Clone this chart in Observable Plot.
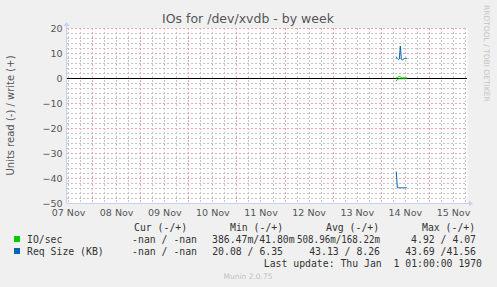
<!DOCTYPE html>
<html><head><meta charset="utf-8">
<script src="https://cdn.jsdelivr.net/npm/d3@7"></script>
<script src="https://cdn.jsdelivr.net/npm/@observablehq/plot@0.6"></script>
<style>
html,body{margin:0;padding:0;background:#F0F0F0;}
#chart svg{display:block;background:#F0F0F0;}
</style></head>
<body><div id="chart"></div>
<script>
// ---- data ----
const title = "IOs for /dev/xvdb - by week";
const yLabel = "Units read (-) / write (+)";
const dayLabels = ["07 Nov","08 Nov","09 Nov","10 Nov","11 Nov","12 Nov","13 Nov","14 Nov","15 Nov"];
const dayNoons = ["2024-11-07T12:00Z","2024-11-08T12:00Z","2024-11-09T12:00Z","2024-11-10T12:00Z","2024-11-11T12:00Z","2024-11-12T12:00Z","2024-11-13T12:00Z","2024-11-14T12:00Z","2024-11-15T12:00Z"];
const yTicks = [20,10,0,-10,-20,-30,-40,-50];
const times = ["2024-11-14T07:30Z","2024-11-14T08:00Z","2024-11-14T08:30Z","2024-11-14T09:00Z","2024-11-14T09:30Z","2024-11-14T10:00Z","2024-11-14T10:30Z","2024-11-14T11:00Z","2024-11-14T11:30Z","2024-11-14T12:00Z","2024-11-14T12:30Z"];
const ioWrite   = [0.2, 0.3, 0.5, 1.0, 0.6, 0.4, 0.3, 0.3, 0.3, 0.3, 0.3];
const ioRead    = [-1.0,-0.3,-0.2,-0.1,-0.1,-0.1,-0.1,-0.1,-0.1,-0.1,-0.1];
const reqWrite  = [8.6, 8.0, 7.6, 7.8, 13.0, 7.8, 7.4, 7.6, 8.0, 8.0, 8.0];
const reqRead   = [-37.4,-43.7,-43.7,-43.7,-43.7,-43.7,-43.7,-43.7,-43.7,-43.7,-43.7];
const legendNames = ["IO/sec","Req Size (KB)"];
const legendColors = ["#00CC00","#0066B3"];
const legendCur = ["-nan / -nan","-nan / -nan"];
const legendMin = ["386.47m/41.80m","20.08 / 6.35"];
const legendAvg = ["508.96m/168.22m","43.13 / 8.26"];
const legendMax = ["4.92 / 4.07","43.69 /41.56"];
const lastUpdate = "Last update: Thu Jan  1 01:00:00 1970";
const footer = "Munin 2.0.75";
const watermark = "RRDTOOL / TOBI OETIKER";
const xDomain = ["2024-11-07T11:30Z","2024-11-15T19:00Z"];

// ---- derived tables ----
const P = d => new Date(d);
const mk = (vals) => times.map((t,i)=>({t:P(t), v:vals[i]}));
const majorX = d3.utcDay.range(P(xDomain[0]), P(xDomain[1]));
const minorX = d3.utcHour.every(6).range(P(xDomain[0]), P(xDomain[1])).filter(d => d.getUTCHours() !== 0);
const majorY = d3.range(-50, 21, 10);
const minorY = d3.range(-50, 21, 2).filter(v => v % 10 !== 0);

const chart = Plot.plot({
  width: 497, height: 287,
  marginLeft: 67, marginRight: 30, marginTop: 28, marginBottom: 84,
  style: {background: "#F0F0F0", fontFamily: "DejaVu Sans", fontSize: "9.5px", color: "#555"},
  x: {type: "utc", domain: xDomain.map(P)},
  y: {domain: [-50, 20]},
  marks: [
    Plot.frame({fill: "white", stroke: null}),
    Plot.ruleX(minorX, {x: d => d, stroke: "#c4c4c4", strokeDasharray: "2,2", strokeWidth: 1, className: "grid"}),
    Plot.ruleY(minorY, {y: d => d, stroke: "#c4c4c4", strokeDasharray: "2,2", strokeWidth: 1, className: "grid"}),
    Plot.ruleX(majorX, {x: d => d, stroke: "#eda4a4", strokeDasharray: "2,2", strokeWidth: 1, className: "grid"}),
    Plot.ruleY(majorY, {y: d => d, stroke: "#eda4a4", strokeDasharray: "2,2", strokeWidth: 1, className: "grid"}),
    Plot.axisY({ticks: yTicks, tickSize: 0, tickPadding: 5, label: null, fill: "#555", fontSize: 9.5}),
    Plot.axisX({ticks: dayNoons.map(P), tickFormat: (d) => dayLabels[dayNoons.findIndex(s => +P(s) === +d)], tickSize: 0, tickPadding: 6, label: null, fill: "#555", fontSize: 9.5}),
    Plot.ruleY([0], {stroke: "black", strokeWidth: 1.2}),
    Plot.line(mk(ioWrite), {x: "t", y: "v", stroke: legendColors[0], strokeWidth: 1}),
    Plot.line(mk(ioRead), {x: "t", y: "v", stroke: legendColors[0], strokeWidth: 1}),
    Plot.line(mk(reqWrite), {x: "t", y: "v", stroke: legendColors[1], strokeWidth: 1}),
    Plot.line(mk(reqRead), {x: "t", y: "v", stroke: legendColors[1], strokeWidth: 1})
  ]
});
document.getElementById("chart").appendChild(chart);

// snap grid lines to whole pixels so the dotted pattern stays crisp
const svg = d3.select(chart);
svg.selectAll("g.grid line").each(function() {
  const l = d3.select(this);
  for (const a of ["x1", "x2", "y1", "y2"]) {
    const v = l.attr(a);
    if (v != null) l.attr(a, Math.round(+v));
  }
});

// ---- decorations (axes arrows, title, legend) ----
const xs = chart.scale("x"), ys = chart.scale("y");
const [x0, x1] = xs.range, [yb, yt] = ys.range;
const axisCol = "#C8D0F0";
const deco = svg.append("g");
deco.append("line").attr("x1", x0).attr("x2", x1 + 3).attr("y1", yb + 0.5).attr("y2", yb + 0.5).attr("stroke", axisCol);
deco.append("path").attr("d", `M${x1+2},${yb-2.5}L${x1+6},${yb+0.5}L${x1+2},${yb+3.5}Z`).attr("fill", axisCol);
deco.append("line").attr("x1", x0 - 0.5).attr("x2", x0 - 0.5).attr("y1", yb).attr("y2", yt - 3).attr("stroke", axisCol);
deco.append("path").attr("d", `M${x0-3.5},${yt-2}L${x0-0.5},${yt-6}L${x0+2.5},${yt-2}Z`).attr("fill", axisCol);

deco.append("text").attr("x", 248).attr("y", 23).attr("text-anchor", "middle")
  .attr("font-family", "DejaVu Sans").attr("font-size", 12.5).attr("fill", "#555").text(title);
deco.append("text").attr("transform", `translate(14,${(yb+yt)/2}) rotate(-90)`).attr("text-anchor", "middle")
  .attr("font-family", "DejaVu Sans").attr("font-size", 10).attr("fill", "#555").text(yLabel);
deco.append("text").attr("transform", `translate(484,5) rotate(90)`).attr("text-anchor", "start")
  .attr("font-family", "DejaVu Sans").attr("font-size", 7.5).attr("fill", "#c4c4c4").text(watermark);

const mono = (x, y, s, anchor="start", col="#333") =>
  deco.append("text").attr("x", x).attr("y", y).attr("text-anchor", anchor)
    .attr("font-family", "DejaVu Sans Mono").attr("font-size", 9.8).attr("fill", col)
    .attr("xml:space", "preserve").style("white-space", "pre").text(s);

const hdrY = 231;
mono(134, hdrY, "Cur (-/+)");
mono(230, hdrY, "Min (-/+)");
mono(326, hdrY, "Avg (-/+)");
mono(422, hdrY, "Max (-/+)");
legendNames.forEach((n, i) => {
  const y = 243 + i * 12;
  deco.append("rect").attr("x", 14).attr("y", y - 7).attr("width", 6).attr("height", 6).attr("fill", legendColors[i]);
  mono(27, y, n);
  mono(197, y, legendCur[i], "end");
  if (i === 0) mono(212, y, legendMin[i]); else mono(283, y, legendMin[i], "end");
  if (i === 0) mono(297, y, legendAvg[i]).attr("textLength", 83).attr("lengthAdjust", "spacingAndGlyphs");
  else mono(380, y, legendAvg[i], "end");
  mono(476, y, legendMax[i], "end");
});
mono(482, 267, lastUpdate, "end");
deco.append("text").attr("x", 248).attr("y", 279).attr("text-anchor", "middle")
  .attr("font-family", "DejaVu Sans").attr("font-size", 7.5).attr("fill", "#c0c0c0").text(footer);
</script></body></html>
